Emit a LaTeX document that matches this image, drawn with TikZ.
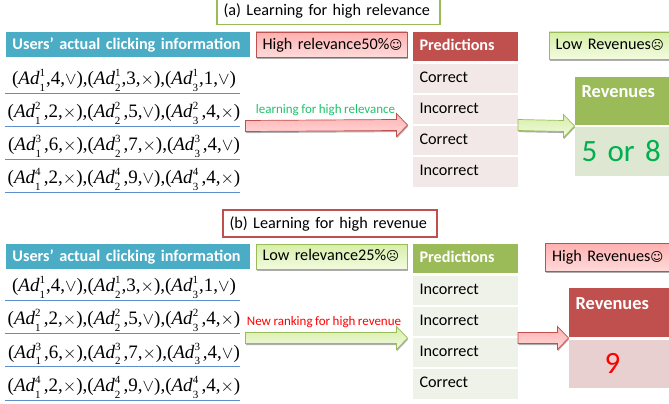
\documentclass[tikz,border=0pt]{standalone}
\usepackage{fontspec}
\setmainfont[WordSpace=0.85]{Carlito}
\newfontfamily\timesf{Liberation Serif}
\newfontfamily\dejavu{DejaVu Sans}
\usetikzlibrary{calc,shadows}
\definecolor{acblue}{HTML}{4BACC6}
\definecolor{acred}{HTML}{C0504D}
\definecolor{acgreen}{HTML}{9BBB59}
\definecolor{rowred}{HTML}{F2E8E8}
\definecolor{rowgreen}{HTML}{EFF2E9}
\definecolor{revgreen}{HTML}{DEE7D1}
\definecolor{revred}{HTML}{E8D0D0}
\definecolor{okgreen}{HTML}{00B050}
\definecolor{linkgreen}{HTML}{1FC46B}
\definecolor{ruleblue}{HTML}{5F8FCB}
\definecolor{pinktop}{HTML}{FFB0B0}
\definecolor{pinkbot}{HTML}{FFDADA}
\definecolor{greentop}{HTML}{D6EEA8}
\definecolor{greenbot}{HTML}{F3FBDF}
\tikzset{
  softshadow/.style={drop shadow={shadow xshift=0.5pt,shadow yshift=-1.6pt,opacity=.45,fill=black!70}},
  basebox/.style={inner sep=0pt,outer sep=0pt,text height=0.8em,text depth=0.1em},
  bodyfont/.style={font=\fontsize{16.2}{18}\selectfont},
  boldfont/.style={font=\bfseries\fontsize{16.2}{18}\selectfont},
  titlea/.style={basebox,draw=acgreen,line width=1.3pt,fill=white,bodyfont,text height=1.15em},
  titleb/.style={basebox,draw=acred,line width=1.3pt,fill=white,bodyfont,text height=1.05em},
  headbox/.style={basebox,fill=acblue,text=white,boldfont,text height=1.1em},
  pinkbox/.style={basebox,draw=acred,line width=.7pt,top color=pinktop,bottom color=pinkbot,softshadow,bodyfont,text height=1em},
  greenbox/.style={basebox,draw=acgreen,line width=.7pt,top color=greentop,bottom color=greenbot,softshadow,bodyfont},
  predred/.style={basebox,fill=acred,text=white,boldfont,text height=.9em},
  predgreen/.style={basebox,fill=acgreen,text=white,boldfont,text height=.9em},
  revhead/.style={basebox,text=white,font=\bfseries\fontsize{18.4}{20}\selectfont},
  cellred/.style={basebox,fill=rowred,bodyfont},
  cellgreen/.style={basebox,fill=rowgreen,bodyfont},
  revcellg/.style={basebox,fill=revgreen,text=okgreen,font=\fontsize{31}{36}\selectfont},
  revcellr/.style={basebox,fill=revred,text=red,font=\fontsize{31}{36}\selectfont},
  clickrow/.style={inner sep=0pt,outer sep=0pt,font=\timesf\fontsize{19}{22}\selectfont},
  rowrule/.style={draw=ruleblue,line width=1pt},
  redarrow/.style={draw=acred,line width=.7pt,top color=pinktop,bottom color=pinkbot,softshadow},
  greenarrow/.style={draw=acgreen,line width=.7pt,top color=greentop,bottom color=greenbot,softshadow},
  arrowlabel/.style={inner sep=0pt,font=\fontsize{13}{15}\selectfont},
}
% style, name, x1, y1, x2, y2, text
\newcommand\rectnode[7]{%
  \pgfmathsetmacro\rw{#5-#3}\pgfmathsetmacro\rh{#6-#4}%
  \pgfmathsetmacro\rtw{#5-#3-13}%
  \node[#1,minimum width=\rw pt,minimum height=\rh pt,text width=\rtw pt,align=left]
    (#2) at ({(#3+#5)/2},{(#4+#6)/2}) {\mbox{#7}};}
% style, start, end, head back
\newcommand\blockarrow[4]{%
  \draw[#1] ($(#2)+(0,-5.5)$) -- ($(#3)+(-#4,-5.5)$) -- ($(#3)+(-#4,-11.5)$) -- (#3)
    -- ($(#3)+(-#4,11.5)$) -- ($(#3)+(-#4,5.5)$) -- ($(#2)+(0,5.5)$) -- cycle;}
\newcommand\adgap{}
\newcommand\ad[2]{\textit{Ad}\rlap{\raisebox{0.42em}{\fontsize{11}{10}\selectfont #1}}\raisebox{-0.33em}{\fontsize{11}{10}\selectfont #2}\hspace{.05em}\adgap}
\newcommand\yes{$\vee$}
\newcommand\no{$\times$}
\newcommand\happy{{\dejavu\fontsize{12.5}{15}\selectfont ☺}}
\newcommand\sad{{\dejavu\fontsize{12.5}{15}\selectfont ☹}}
% name, y, gap after each Ad, text
\newcommand\clickrownode[4]{%
  \node[clickrow,minimum width=235pt,minimum height=25pt] (#1) at (122.5,#2)
    {\hspace*{3pt}\renewcommand\adgap{\hspace{#3}}#4};
  \draw[rowrule] (#1.south west) -- (#1.south east);}
\begin{document}
\begin{tikzpicture}[x=1pt,y=-1pt]
\useasboundingbox (0,0) rectangle (669,404);
\fill[white] (0,0) rectangle (669,404);
% ---- (a)
\rectnode{titlea}{ta}{217}{-3}{440}{24.5}{(a) Learning for high relevance}
\rectnode{headbox}{ha}{6}{32}{250}{57}{Users’ actual clicking information}
\rectnode{pinkbox}{ra}{256}{32}{407}{57}{High relevance50\%\happy}
\rectnode{predred}{pa}{413}{32}{518}{61}{Predictions}
\rectnode{cellred}{pa1}{413}{64}{518}{93}{Correct}
\rectnode{cellred}{pa2}{413}{95}{518}{124}{Incorrect}
\rectnode{cellred}{pa3}{413}{126}{518}{155}{Correct}
\rectnode{cellred}{pa4}{413}{157}{518}{187}{Incorrect}
\rectnode{greenbox}{la}{549}{32}{680}{59}{Low Revenues\sad}
\rectnode{predgreen,revhead}{ga}{575}{77}{680}{125}{\smash{\raisebox{7pt}{Revenues}}}
\rectnode{revcellg}{gv}{575}{127}{680}{175.5}{\smash{\raisebox{-7pt}{5 or 8}}}
\clickrownode{a1}{80.5}{0pt}{(\ad{1}{1},4,\yes),(\ad{1}{2},3,\no),(\ad{1}{3},1,\yes)}
\clickrownode{a2}{113.5}{2.3pt}{(\ad{2}{1},2,\no),(\ad{2}{2},5,\yes),(\ad{2}{3},4,\no)}
\clickrownode{a3}{146.5}{2pt}{(\ad{3}{1},6,\no),(\ad{3}{2},7,\no),(\ad{3}{3},4,\yes)}
\clickrownode{a4}{179.5}{2.3pt}{(\ad{4}{1},2,\no),(\ad{4}{2},9,\yes),(\ad{4}{3},4,\no)}
\coordinate (aas) at (245.5,126);
\coordinate (aat) at ($(pa2.south west)+(-5.5,1)$);
\blockarrow{redarrow}{aas}{aat}{11}
\coordinate (abs) at ($(pa2.south east)+(0,1)$);
\coordinate (abt) at ($(ga.south west)+(-0.5,1)$);
\blockarrow{greenarrow}{abs}{abt}{11}
\node[arrowlabel,text=linkgreen] (lba) at (325.5,110) {learning for high relevance};
% ---- (b)
\rectnode{titleb}{tb}{223}{210}{437}{237}{(b) Learning for high revenue}
\rectnode{headbox}{hb}{6}{244}{250}{269}{Users’ actual clicking information}
\rectnode{greenbox}{rb}{256}{244}{407}{269}{Low relevance25\%\sad}
\rectnode{predgreen}{pb}{413}{244}{518}{273}{Predictions}
\rectnode{cellgreen}{pb1}{413}{276}{518}{305}{Incorrect}
\rectnode{cellgreen}{pb2}{413}{307}{518}{336}{Incorrect}
\rectnode{cellgreen}{pb3}{413}{338}{518}{367}{Incorrect}
\rectnode{cellgreen}{pb4}{413}{369}{518}{399}{Correct}
\rectnode{pinkbox}{lb}{545.5}{243.5}{680}{271}{High Revenues\happy}
\rectnode{predred,revhead}{gb}{569}{288}{680}{337}{\smash{\raisebox{7pt}{Revenues}}}
\rectnode{revcellr}{gw}{569}{340}{680}{388}{\smash{\raisebox{-6pt}{\hspace{29pt}9}}}
\clickrownode{b1}{287.5}{0pt}{(\ad{1}{1},4,\yes),(\ad{1}{2},3,\no),(\ad{1}{3},1,\yes)}
\clickrownode{b2}{320.5}{2.3pt}{(\ad{2}{1},2,\no),(\ad{2}{2},5,\yes),(\ad{2}{3},4,\no)}
\clickrownode{b3}{354}{2pt}{(\ad{3}{1},6,\no),(\ad{3}{2},7,\no),(\ad{3}{3},4,\yes)}
\clickrownode{b4}{387.5}{2.3pt}{(\ad{4}{1},2,\no),(\ad{4}{2},9,\yes),(\ad{4}{3},4,\no)}
\coordinate (bas) at (245.5,338);
\coordinate (bat) at ($(pb2.south west)+(-5.5,2)$);
\blockarrow{greenarrow}{bas}{bat}{11}
\coordinate (bbs) at (518,338);
\coordinate (bbt) at ($(gb.south west)+(-0.5,1)$);
\blockarrow{redarrow}{bbs}{bbt}{11}
\node[arrowlabel,text=red] (lbb) at (324,322) {New ranking for high revenue};
\end{tikzpicture}
\end{document}
